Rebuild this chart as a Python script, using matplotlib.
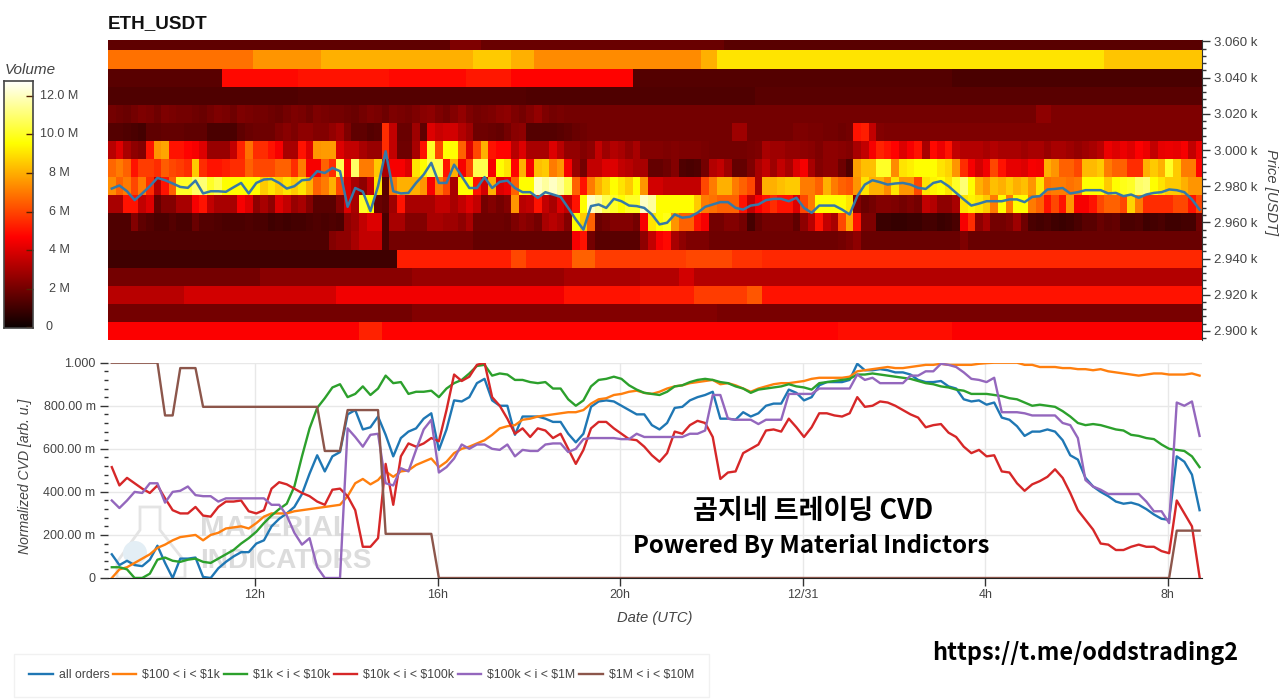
import numpy as np
import matplotlib
matplotlib.use("Agg")
import matplotlib.pyplot as plt
from matplotlib.patches import Polygon, Circle
from matplotlib.transforms import Affine2D

plt.rcParams['font.family'] = ['Liberation Sans', 'DejaVu Sans']

# ---------- data ----------
start_hour = 8.78
step_hour = 1 / 6
end_hour = 32.75
price_bins = [2900 + 10 * k for k in range(17)]
tick_hours = [12, 16, 20, 24, 28, 32]
tick_hour_labels = ['12h', '16h', '20h', '12/31', '4h', '8h']
price_ticks = [2900, 2920, 2940, 2960, 2980, 3000, 3020, 3040, 3060]
price_tick_labels = ['2.900 k', '2.920 k', '2.940 k', '2.960 k', '2.980 k', '3.000 k', '3.020 k', '3.040 k', '3.060 k']
cvd_ticks = [0, 0.2, 0.4, 0.6, 0.8, 1.0]
cvd_tick_labels = ['0', '200.00 m', '400.00 m', '600.00 m', '800.00 m', '1.000']
vol_ticks = [0, 2, 4, 6, 8, 10, 12]
vol_tick_labels = ['0', '2 M', '4 M', '6 M', '8 M', '10.0 M', '12.0 M']

# volume (millions) per 10-minute column
vol_3060 = [1.6] * 45 + [2.2] * 4 + [1.8] * 32 + [1.5] * 63
vol_3050 = [6.8] * 19 + [7.5] * 9 + [8.0] * 20 + [8.5] * 5 + [8.0] * 3 + [7.3] * 22 + [8.0] * 2 + [9.0] * 51 + [8.4] * 13
vol_3040 = [1.5] * 15 + [4.8] * 10 + [5.0] * 12 + [4.8] * 10 + [5.1] * 6 + [4.7] * 16 + [1.4] * 42 + [1.2] * 33
vol_3030 = [1.3] * 25 + [1.4] * 30 + [1.3] * 30 + [1.5] * 59
vol_3020 = [2.0, 1.9, 1.8, 2.0, 2.2, 2.1, 1.9, 2.2, 2.1, 2.0] * 4 + [2.2, 2.4, 2.5, 2.2, 2.0, 2.3, 2.6, 2.2, 2.0, 2.1] * 2 + [2.0] * 62 + [2.5] * 2 + [2.2] * 20
vol_3010 = [1.4, 1.4, 1.3, 1.2, 1.1, 1.6, 1.6, 1.7, 1.7, 1.7, 1.6, 1.6, 1.6, 1.2, 1.2, 1.2, 1.2, 1.6, 1.8, 1.9,
            1.9, 1.9, 2.2, 2.4, 2.2, 2.5, 2.5, 2.3, 2.3, 2.6, 2.9, 2.2, 1.6, 1.6, 1.4, 1.5, 5.5, 3.5, 1.8, 1.8,
            2.8, 1.6, 4.0, 3.6, 3.8, 3.8, 3.2, 2.8,
            1.9, 1.9, 1.8, 1.7, 2.0, 2.4, 2.5, 1.4, 1.4, 1.4, 1.4, 1.5, 1.6, 1.8, 1.9] + [2.0] * 19 + [2.8, 2.8] + [2.0] * 6 + [2.2, 2.2, 2.1, 2.1, 2.0, 2.0] + \
           [1.9, 2.0, 5.0, 5.2, 3.5, 2.3] + [2.2] * 42
vol_3000 = [3.3, 4, 3, 2.5, 2.3, 5, 7.5, 7.8, 5, 5, 4.7, 4.5, 4, 2.7, 2.7, 2.7, 3.5, 5.3, 6.8, 5.5, 5.5, 5, 4.5, 3, 3, 5, 4, 7.5, 7.6, 7.6,
            4, 3.5, 3.5, 3, 2.7, 2.7, 5.5, 3.5, 1.9, 1.9, 3, 5, 10, 6, 9.5, 9.5, 6.5, 4,
            6, 8, 5, 4.7, 4.7, 3.3, 4, 3, 3, 3, 4, 3.3, 2.6, 2.6, 2.3, 2.5, 3.5, 2.8, 3.2, 3, 2.6, 3, 2.3, 2.3, 2.3, 2.2, 2.3, 2.2, 2.2, 2.2, 2.1, 2, 2, 2, 2, 2, 2.1, 2.2, 3, 2.8, 2.8, 2.6, 2.6, 2.5, 2.4, 2.2, 2.5, 2.5,
            2.4, 2.3, 3, 3.5, 4.5, 5.3, 5, 4.7, 4, 4.5, 5, 3, 4.8, 4.3, 5, 3.5, 3.2, 3.2, 3.2, 3, 3.2, 3, 3, 3, 2.8, 3, 3, 2.7, 3, 3, 2.8, 2.6, 2.8, 3, 3.3, 4.3, 4, 4.3, 4, 4.6, 4.3, 3.5, 4.2, 4.3, 4.2, 4.5, 3.5, 4.3]
vol_2990 = [6.6, 7, 6.5, 5, 5.8, 5.8, 5.5, 6.4, 6, 5.8, 5.5, 8.5, 5.5, 5, 5, 5.2, 5.5, 5.5, 6.5, 6, 6, 6, 6.5, 6.5, 5.5, 7, 4.5, 4.5, 6.5, 5.5,
            10.5, 4.5, 10.8, 7, 7, 8.5, 3, 4.5, 4.5, 4, 9, 9.5, 10.5, 10.5, 5, 8, 4.5, 6,
            10.5, 10.5, 4.5, 9.5, 9, 4.7, 8, 4.5, 8.3, 8.5, 7, 7.5, 4.5, 2.7, 2, 3.5, 3.5, 4, 4, 3.5, 3.3, 3, 3, 1.7, 1.7, 1.9, 2.3, 1.3, 1.2, 1.3, 2, 3.2, 3.5, 2.8, 1.7, 1.7, 2.2, 3, 3.5, 2.8, 3.5, 3, 4, 4.5, 3, 2.3, 2.5, 2.5,
            1.9, 1.3, 7.7, 8.3, 8.3, 10, 10, 7.3, 9, 9.2, 9.5, 9.5, 9.5, 9, 8.7, 7.5, 5.5, 4.5, 3.8, 4.4, 6, 5, 4.2, 4.2, 4, 4.5, 4.4, 8, 7.5, 6.5, 6.5, 6, 8.2, 8.2, 8.5, 7, 6.5, 6.5, 5.5, 5.5, 8, 8.5, 8, 10, 8.5, 7, 7, 4.7]
vol_2980 = [7.3, 6.5, 7, 6, 7, 5.5, 3.3, 5, 6.5, 10, 10, 10.8, 11, 10, 10.5, 9.5, 9.5, 9.5, 9.5, 9.5, 8.5, 9, 8.5, 9, 8.5, 9, 8, 6.5, 7, 8,
            6, 4, 3, 2.5, 3.5, 9, 1.5, 7, 8, 8, 8, 7.5, 4.5, 7, 6, 3, 9.5, 9.5,
            5, 3.8, 8, 4, 4.3, 6.5, 9.5, 9.5, 12, 11.5, 12, 11.5, 10.5, 6.5, 5, 7, 8, 8.7, 9.5, 9, 8.5, 9.5, 7.5, 3.8, 3.8, 3.5, 3.5, 3.5, 3.5, 3.5, 6, 7, 8, 8, 7, 6.5, 6, 3, 8, 8, 8.3, 8.5, 8.5, 7, 7, 6.5, 8, 7,
            6.5, 6.3, 7.5, 9, 8, 8, 7.3, 9, 7.5, 7.5, 6, 9, 9.3, 9.5, 9, 10, 11, 9.5, 8, 7.5, 8.3, 8, 8.5, 8, 8.3, 7.5, 9, 6.8, 7, 7, 6.8, 7, 9.5, 9.5, 9.5, 8.5, 9.5, 9.8, 10, 10.8, 11, 9.5, 9, 8.5, 8.5, 8, 7.5, 7.5]
vol_2970 = [3, 3, 5, 5, 3.5, 4, 1.7, 2.3, 2.3, 3, 3, 4.5, 5, 3.5, 3, 3, 3, 4.5, 4, 2.5, 3, 2.5, 4, 3.5, 2.7, 3, 2.3, 1.5, 1.5, 1.5,
            2.3, 4, 3, 10, 9.5, 1.8, 1.6, 2.8, 5, 3, 3, 3, 3, 3.5, 3.5, 3, 3.5, 4,
            3.5, 2, 2.3, 2, 2.3, 7.5, 3.3, 3.5, 5, 3.5, 3, 4, 3.5, 5, 9.5, 12, 11.5, 10.5, 10, 9.5, 10, 10, 12, 11.5, 9.5, 9.5, 9.5, 9.5, 9.5, 8.5, 7, 6.8, 6.5, 6.5, 6.5, 5, 3.5, 4.5, 5, 5.5, 5, 5, 4, 6, 7, 9.5, 9.5, 9.5,
            9.5, 9, 2.3, 1.8, 2, 2.3, 2.3, 2.2, 2, 2.2, 2, 3.5, 3.2, 2.5, 2.5, 3, 9, 9.3, 9, 8.5, 7, 9.5, 7, 9.5, 9.5, 7, 6.5, 5, 6, 5, 7.5, 4.5, 4.5, 5, 6, 6.5, 6.5, 6, 8.7, 7, 5.5, 5.5, 5.5, 5.5, 6, 6, 5, 6]
vol_2960 = [1.3, 1.3, 1.3, 2.3, 1.6, 1.4, 1.2, 1.2, 1.4, 1.2, 1.2, 1.8, 1.4, 1.4, 1.3, 1.2, 1.2, 1.2, 1.3, 1.2, 1.2, 1.0, 1.1, 1.0, 1.1, 1.1, 1.2, 1.3, 1.2, 1.3,
            1.2, 2.5, 2.8, 3.5, 4, 4, 1.2, 3, 3, 2.3, 2.3, 2.3, 3, 3, 2.8, 2.8, 2.5, 3,
            1.9, 1.9, 1.9, 1.9, 1.8, 2.2, 2.5, 2.3, 2, 3, 3.3, 3, 2.3, 9.5, 8.5, 6.5, 1.8, 2, 2.3, 2.3, 2.3, 2, 4.5, 9, 9.5, 9.8, 7.5, 6.5, 6.5, 5, 4.5, 2, 2, 2.3, 2.3, 2, 1.1, 1.7, 2, 2, 2, 2, 1.6, 2.5, 3.3, 5, 3.5, 3,
            6, 7.8, 5, 2.2, 2.2, 0.9, 0.9, 0.8, 0.8, 0.9, 0.9, 1.1, 1.1, 0.9, 1, 1.2, 4.5, 5.5, 2.5, 3, 2, 2, 2.2, 2.8, 1.9, 1.2, 1.1, 1.2, 1, 0.9, 1, 1.2, 1.5, 1.5, 1.8, 1.6, 1.7, 1.2, 1.2, 1.3, 1, 1.1, 1.2, 1, 1, 1.1, 1.1, 1.9]
vol_2950 = [1.3] * 29 + [2.3, 2.5, 2.5, 3, 3.5, 3.5, 3.5, 1.2] + [2.0] * 11 + [1.7] * 13 + [4.5, 5, 2] + [1.5] * 6 + [2.5, 3.5, 4.5, 4.8, 3, 2.5, 2.2, 2.2, 2.2] + [1.9] * 17 + [2, 2.2, 2.5] + [1.8] * 13 + [2.2] + [1.8] * 31
vol_2940 = [1.0] * 38 + [5.2] * 15 + [6.0] * 2 + [5.4] * 6 + [6.5] * 3 + [5.8] * 12 + [6.0] * 6 + [5.6] * 4 + [5.4] * 58
vol_2930 = [2.0] * 20 + [2.4] * 20 + [2.7] * 20 + [3.0] * 10 + [3.2] * 5 + [3.8] * 2 + [3.2] * 67
vol_2920 = [3.3] * 10 + [3.8] * 20 + [4.4] * 30 + [5.0] * 10 + [5.2] * 7 + [5.8] * 7 + [6.3] * 2 + [5.0] * 58
vol_2910 = [2.0] * 40 + [2.3] * 40 + [2.1] * 64
vol_2900 = [4.6] * 33 + [5.3] * 3 + [4.7] * 60 + [4.9] * 15 + [4.6] * 33

price_line = [2978.7, 2980.4, 2977.2, 2972.3, 2976, 2980, 2984.6, 2983.3, 2981.5, 2979.6, 2979.1, 2983.1, 2976, 2977.2, 2977.2, 2976.9, 2979.4, 2981.8, 2976, 2981.8,
              2983.7, 2984, 2981.8, 2978.7, 2980, 2983.3, 2983.7, 2988.3, 2987.3, 2990.1, 2988.3, 2968.6, 2979, 2977, 2966.2, 2980, 2999.3, 2977.2, 2976, 2976.3,
              2981.8, 2986.4, 2992.9, 2981.8, 2981.8, 2991.9, 2985.5, 2979,
              2979, 2985, 2979, 2982.4, 2983.1, 2979, 2976.7, 2976.7, 2973.6, 2976.7, 2975.4, 2974.1, 2968, 2961.6, 2956, 2969, 2969.9, 2968, 2973, 2971.7, 2969.3, 2969,
              2968, 2964.4, 2958.9, 2959.8, 2964.4, 2962.6, 2963.1, 2965.3, 2968.6, 2969.9, 2971.2, 2971.2, 2968, 2967.1, 2969.3, 2969.9, 2972.3, 2973, 2973, 2971.7,
              2973.6, 2968, 2965.3, 2969.3, 2969.3, 2969.3,
              2967.1, 2964.4, 2974.5, 2980.9, 2983.3, 2982.2, 2980.9, 2981.5, 2981.8, 2980.9, 2979.1, 2978.5, 2981.8, 2982.8, 2980, 2976.3, 2972.7, 2969.3, 2970.4, 2971.7,
              2971.7, 2971.7, 2972.7, 2972.7, 2971.2, 2974.1, 2974.5, 2978.2, 2978.5, 2979, 2976, 2976.7, 2977.8, 2977.8, 2977.8, 2976, 2976.3, 2974.5, 2975.4, 2973.6,
              2975.4, 2976.3, 2976.7, 2978.2, 2977.8, 2976.7, 2972.7, 2967.1]

cvd_all = [.11, .06, .08, .06, .055, .085, .15, .07, 0, .09, .09, .095, .005, 0, .045, .075, .10, .12, .12, .16,
           .175, .24, .275, .30, .33, .39, .485, .57, .495, .565, .585, .76, .78, .69, .70, .75, .665, .565, .65, .68,
           .695, .74, .765, .595, .69, .825, .82, .84, .905, .925, .825, .80,
           .80, .665, .75, .75, .75, .74, .725, .725, .67, .63, .67, .795, .82, .825, .82, .80, .78, .76,
           .76, .71, .69, .72, .79, .795, .825, .84, .85, .865, .74, .74, .735, .77, .75, .765, .80, .81, .81, .875,
           .86, .825, .84, .895, .91, .91, .91, .92, .995, .965,
           .965, .97, .965, .955, .955, .945, .92, .91, .91, .915, .89, .88, .83, .82, .825, .805, .815, .745, .735, .705,
           .66, .68, .68, .69, .68, .64, .57, .55, .465, .425, .40, .38, .355, .345, .35, .34, .32, .295, .275, .27,
           .565, .54, .48, .315]
cvd_100_1k = [0, .04, .05, .07, .09, .11, .14, .155, .175, .19, .195, .20, .175, .20, .21, .23, .235, .24, .23, .255,
              .285, .30, .30, .30, .31, .315, .32, .325, .33, .335, .34, .38, .44, .46, .435, .455, .495, .47, .495, .50,
              .525, .54, .555, .515, .54, .58, .60, .61, .625, .64, .665, .695,
              .705, .71, .735, .74, .75, .755, .76, .765, .77, .77, .78, .81, .83, .835, .85, .855, .865, .87,
              .86, .855, .865, .88, .89, .895, .905, .91, .915, .92, .90, .905, .895, .88, .865, .88, .89, .90, .905, .905,
              .91, .915, .925, .93, .93, .93, .93, .935, .96, .965,
              .97, .975, .98, .975, .975, .98, .985, .99, .99, .995, .99, .99, .99, .99, .995, .998, 1, 1, 1, 1,
              .99, .99, .98, .98, .98, .975, .975, .97, .97, .965, .97, .96, .955, .95, .945, .94, .945, .95, .95, .945,
              .945, .945, .95, .94]
cvd_1k_10k = [.05, .05, .04, 0, 0, .02, .085, .095, .08, .075, .085, .09, .075, .07, .09, .11, .13, .16, .185, .215,
              .255, .29, .32, .345, .425, .565, .695, .79, .835, .885, .90, .84, .855, .89, .85, .88, .94, .905, .91, .855,
              .865, .865, .87, .84, .88, .905, .92, .95, .985, .99, .94, .95,
              .945, .92, .92, .91, .905, .91, .88, .88, .83, .80, .825, .89, .92, .925, .935, .925, .895, .875,
              .86, .855, .85, .865, .89, .895, .91, .92, .925, .92, .91, .905, .89, .88, .86, .875, .88, .885, .89, .90,
              .89, .885, .875, .905, .91, .915, .92, .925, .945, .945,
              .95, .945, .94, .935, .93, .925, .915, .905, .90, .89, .885, .875, .87, .855, .855, .855, .85, .845, .835, .83,
              .815, .80, .805, .80, .795, .775, .75, .72, .71, .715, .71, .70, .69, .685, .665, .66, .65, .645, .62, .60,
              .595, .59, .565, .515]
cvd_10k_100k = [.515, .43, .465, .44, .415, .395, .43, .37, .315, .30, .30, .33, .29, .285, .33, .355, .355, .36, .31, .30,
                .315, .415, .445, .435, .415, .395, .38, .355, .34, .41, .415, .38, .315, .145, .145, .185, .53, .34, .565, .625,
                .61, .625, .65, .635, .78, .945, .915, .935, .99, 1.0, .84, .80,
                .74, .67, .695, .655, .695, .685, .65, .67, .60, .53, .595, .695, .725, .725, .695, .67, .645, .64,
                .61, .57, .54, .58, .68, .67, .71, .73, .72, .655, .46, .49, .495, .58, .60, .62, .685, .69, .68, .74,
                .70, .655, .70, .765, .765, .755, .75, .765, .84, .795,
                .80, .82, .815, .80, .78, .76, .745, .70, .71, .715, .675, .655, .61, .58, .595, .565, .57, .495, .49, .44,
                .405, .435, .45, .47, .505, .465, .395, .315, .27, .225, .16, .155, .13, .13, .145, .155, .145, .145, .125, .115,
                .36, .30, .24, .005]
cvd_100k_1M = [.36, .325, .36, .40, .395, .44, .44, .35, .40, .405, .425, .385, .38, .38, .355, .37, .37, .37, .37, .37,
               .37, .34, .34, .29, .21, .155, .185, .05, 0, 0, 0, .695, .655, .61, .665, .67, .44, .43, .51, .495,
               .595, .69, .735, .49, .515, .555, .62, .60, .62, .62, .60, .595,
               .62, .565, .595, .59, .59, .62, .625, .625, .585, .60, .645, .65, .65, .65, .65, .645, .645, .67,
               .655, .655, .655, .655, .655, .655, .67, .67, .685, .85, .85, .74, .735, .735, .735, .715, .735, .735, .735, .855,
               .855, .855, .855, .88, .88, .88, .88, .88, .945, .92,
               .93, .905, .905, .905, .905, .94, .94, .96, .96, .995, .99, .98, .955, .925, .92, .91, .93, .77, .77, .77,
               .765, .755, .755, .755, .755, .72, .71, .65, .455, .425, .41, .39, .39, .39, .39, .39, .355, .31, .31, .255,
               .815, .80, .82, .66]
cvd_1M_10M = [1.0] * 7 + [.755] * 2 + [.975] * 3 + [.795] * 16 + [.59] * 3 + [.78] * 5 + [.205] * 7 + [0.0] * 97 + [.22] * 4

series_names = ['all orders', r'\$100 < i < \$1k', r'\$1k < i < \$10k', r'\$10k < i < \$100k', r'\$100k < i < \$1M', r'\$1M < i < \$10M']
series_colors = ['#1f77b4', '#ff7f0e', '#2ca02c', '#d62728', '#9467bd', '#8c564b']

# ---------- layout ----------
W, H = 1280, 700
fig = plt.figure(figsize=(W / 100, H / 100), dpi=100, facecolor='white')

def axpx(x0, y0, x1, y1):
    return fig.add_axes([x0 / W, 1 - y1 / H, (x1 - x0) / W, (y1 - y0) / H])

px = Affine2D().scale(1, -1).translate(0, H)  # figure pixels, y down
GREY = '#444444'
VMAX = 12.77

hours = start_hour + (np.arange(144) + 0.5) * step_hour

# ---------- heatmap ----------
ax1 = axpx(108, 40, 1202, 340)
volume = np.array([vol_2900, vol_2910, vol_2920, vol_2930, vol_2940, vol_2950, vol_2960, vol_2970, vol_2980,
                   vol_2990, vol_3000, vol_3010, vol_3020, vol_3030, vol_3040, vol_3050, vol_3060])
xedges = start_hour + np.arange(145) * step_hour
yedges = np.array(price_bins + [price_bins[-1] + 10]) - 5
ax1.pcolormesh(xedges, yedges, volume, cmap='hot', vmin=0, vmax=VMAX, shading='flat', rasterized=True)
ax1.plot(hours, price_line, color='#3579a8', lw=1.8, solid_joinstyle='round')
ax1.set_xlim(start_hour, end_hour)
ax1.set_ylim(2895, 3060.8)
ax1.yaxis.tick_right()
ax1.yaxis.set_label_position('right')
ax1.set_yticks(price_ticks, price_tick_labels, fontsize=9.5, color=GREY)
ax1.set_yticks(np.arange(2896, 3060.5, 4), minor=True)
ax1.tick_params(axis='y', which='major', length=6, width=1, color='#333333', pad=3)
ax1.tick_params(axis='y', which='minor', length=3, width=1, color='#333333')
ax1.set_xticks([])
for s in ('top', 'left', 'bottom'):
    ax1.spines[s].set_visible(False)
ax1.spines['right'].set_color('#333333')
fig.text(108 / W, 1 - 24 / H, 'ETH_USDT', fontsize=13.6, fontweight='bold', color='#111111', va='center', ha='left')
fig.text(1271 / W, 1 - 192 / H, 'Price [USDT]', fontsize=10.6, style='italic', color=GREY, rotation=270, va='center', ha='center')

# ---------- colour bar ----------
cax = axpx(4, 81, 33, 328)
cax.imshow(np.linspace(0, 1, 256)[:, None], cmap='hot', origin='lower', aspect='auto',
           extent=[0, 1, -0.03, VMAX])
cax.set_xticks([])
cax.set_yticks(vol_ticks, [''] * 7)
cax.tick_params(axis='y', direction='in', right=True, left=False, length=5, width=1, color='#552200')
for s in cax.spines.values():
    s.set_color('#444444')
    s.set_linewidth(1.2)
for v, lab in zip(vol_ticks, vol_tick_labels):
    cx = 49 if v == 0 else 59
    cax.annotate(lab, xy=(1, v), xycoords=('axes fraction', 'data'), xytext=(cx - 33, 0), textcoords='offset pixels',
                 fontsize=9, color=GREY, ha='center', va='center')
fig.text(5 / W, 1 - 70 / H, 'Volume', fontsize=11, style='italic', color=GREY, va='center', ha='left')

# ---------- CVD ----------
ax2 = axpx(108, 362.7, 1202, 578)
ax2.set_xlim(start_hour, end_hour)
ax2.set_ylim(0, 1)
ax2.grid(True, color='#e8e8e8', lw=1)
ax2.set_axisbelow(True)

# watermark (below lines)
ax2.text(200, 528, 'MATERIAL', transform=px, fontsize=21.3, fontweight='bold', color='#dcdcdc', va='center', zorder=1, clip_on=False)
ax2.text(200, 561, 'INDICATORS', transform=px, fontsize=20.2, fontweight='bold', color='#dcdcdc', va='center', zorder=1, clip_on=False)
flask = Polygon([(140, 507), (160, 507), (160, 530), (185, 562), (185, 578), (117, 578), (117, 562), (140, 530)],
                closed=True, fill=False, edgecolor='#e4e4e4', lw=2, transform=px, zorder=1)
ax2.add_patch(flask)
ax2.add_patch(Circle((135, 553), 12, facecolor='#e3eef5', edgecolor='none', transform=px, zorder=1))

cvd_series = [cvd_all, cvd_100_1k, cvd_1k_10k, cvd_10k_100k, cvd_100k_1M, cvd_1M_10M]
handles = []
for vals, name, col in zip(cvd_series, series_names, series_colors):
    h, = ax2.plot(hours, vals, color=col, lw=1.7, label=name, solid_joinstyle='round', zorder=3, clip_on=True)
    handles.append(h)

ax2.set_xticks(tick_hours, tick_hour_labels, fontsize=9, color=GREY)
ax2.set_yticks(cvd_ticks, cvd_tick_labels, fontsize=9, color=GREY)
ax2.set_yticks(np.arange(0, 1.001, 0.04), minor=True)
ax2.tick_params(axis='x', length=6, width=1, color='#333333', pad=2)
ax2.tick_params(axis='y', which='major', length=6, width=1, color='#333333', pad=3)
ax2.tick_params(axis='y', which='minor', length=3, width=1, color='#333333')
for s in ('top', 'right', 'left'):
    ax2.spines[s].set_visible(False)
ax2.spines['bottom'].set_color('#222222')
fig.text(25 / W, 1 - 476 / H, 'Normalized CVD [arb. u.]', fontsize=10.1, style='italic', color=GREY, rotation=90, va='center', ha='center')
fig.text(655 / W, 1 - 618 / H, 'Date (UTC)', fontsize=10.6, style='italic', color=GREY, va='center', ha='center')

# ---------- overlay captions ----------
KR = ['Noto Sans CJK KR', 'DejaVu Sans']
fig.text(813 / W, 1 - 511 / H, '곰지네 트레이딩 CVD', fontsize=19.5, fontweight='bold', family=KR, color='black', va='center', ha='center', zorder=10)
fig.text(811 / W, 1 - 546 / H, 'Powered By Material Indictors', fontsize=17.3, fontweight='bold', family=KR, color='black', va='center', ha='center', zorder=10)
fig.text(1085 / W, 1 - 653 / H, 'https://t.me/oddstrading2', fontsize=16.9, fontweight='bold', family=KR, color='black', va='center', ha='center', zorder=10)

# ---------- legend ----------
fig.legend(handles=handles, labels=series_names, loc='upper left', bbox_to_anchor=(14 / W, 1 - 654 / H),
           bbox_transform=fig.transFigure, ncol=6, fontsize=8.8, frameon=True, fancybox=False, edgecolor='#eeeeee',
           labelcolor=GREY, handlelength=1.9, handletextpad=0.5, columnspacing=0.3, borderpad=1.25, borderaxespad=0)

fig.savefig('out.png', dpi=100, facecolor='white')
